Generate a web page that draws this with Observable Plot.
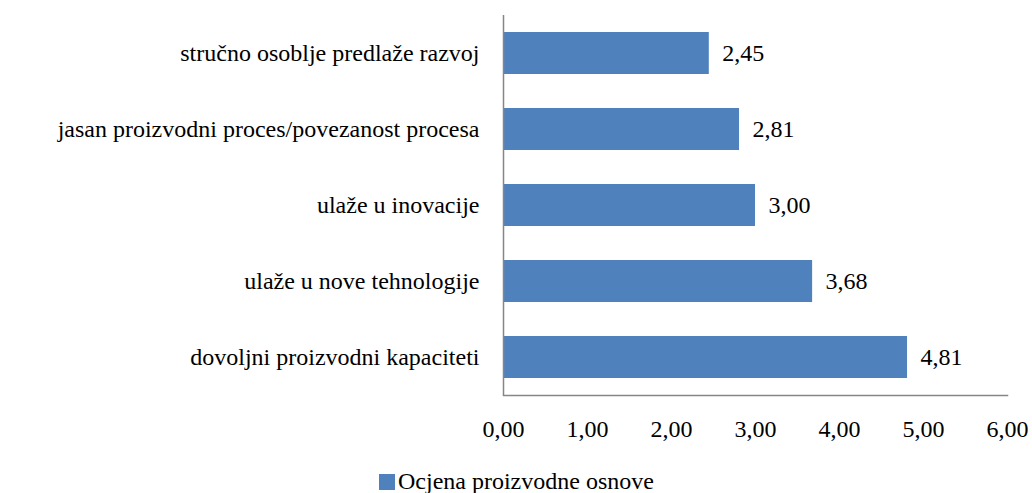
<!DOCTYPE html>
<html>
<head>
<meta charset="utf-8">
<style>
  html, body, div, span, svg, svg *, text { font-family: 'Liberation Serif', 'Times New Roman', serif !important; }
  body { margin: 0; background: #fff; }
  #wrap { position: relative; width: 1032px; height: 493px; }
  #legend { position: absolute; left: 379px; top: 467px; font-size: 24px; line-height: 28px; color: #000; display: flex; align-items: center; white-space: nowrap; }
  #legend .sw { width: 16px; height: 16px; background: #4F81BD; margin-right: 3px; margin-top: 2px; }
</style>
<script src="https://cdn.jsdelivr.net/npm/d3@7"></script>
<script src="https://cdn.jsdelivr.net/npm/@observablehq/plot@0.6"></script>
</head>
<body>
<div id="wrap"><div id="chart"></div><div id="legend" style="font-family: 'Liberation Serif', serif !important;"><span class="sw"></span><span style="font-family: 'Liberation Serif', serif !important;">Ocjena proizvodne osnove</span></div></div>
<script>
const categories = [
  "stručno osoblje predlaže razvoj",
  "jasan proizvodni proces/povezanost procesa",
  "ulaže u inovacije",
  "ulaže u nove tehnologije",
  "dovoljni proizvodni kapaciteti"
];
const values = [2.45, 2.81, 3.00, 3.68, 4.81];
const xTicks = [0, 1, 2, 3, 4, 5, 6];
const seriesName = "Ocjena proizvodne osnove";

const FONT = "'Liberation Serif', 'Times New Roman', serif";
const data = categories.map((c, i) => ({category: c, value: values[i]}));
const fmt = v => d3.format(".2f")(v).replace(".", ",");

const chart = Plot.plot({
  width: 1032,
  height: 460,
  marginLeft: 503,
  marginRight: 25,
  marginTop: 15,
  marginBottom: 65,
  style: { fontFamily: FONT, fontSize: "24px", color: "#000", background: "#fff" },
  x: { domain: [0, 6], ticks: xTicks, tickFormat: fmt, label: null },
  y: { domain: categories, paddingInner: 0.45, paddingOuter: 0.225, label: null },
  marks: [
    Plot.barX(data, { x: "value", y: "category", fill: "#4F81BD" }),
    Plot.text(data, { x: "value", y: "category", text: d => fmt(d.value), textAnchor: "start", dx: 13, fontSize: 24, fill: "#000" }),
    Plot.axisX({ ticks: xTicks, tickFormat: fmt, tickSize: 0, tickPadding: 24, fontSize: 24, label: null }),
    Plot.axisY({ tickSize: 0, tickPadding: 24, fontSize: 24, label: null }),
    Plot.ruleX([0], { stroke: "#868686", strokeWidth: 1.5 }),
    Plot.frame({ anchor: "bottom", stroke: "#868686", strokeWidth: 1.5 })
  ]
});
chart.style.setProperty("font-family", FONT, "important");
chart.querySelectorAll("text, tspan, g").forEach(t => { t.style.setProperty("font-family", FONT, "important"); t.style.setProperty("font-variant", "normal"); });
document.getElementById("chart").appendChild(chart);
</script>
</body>
</html>
